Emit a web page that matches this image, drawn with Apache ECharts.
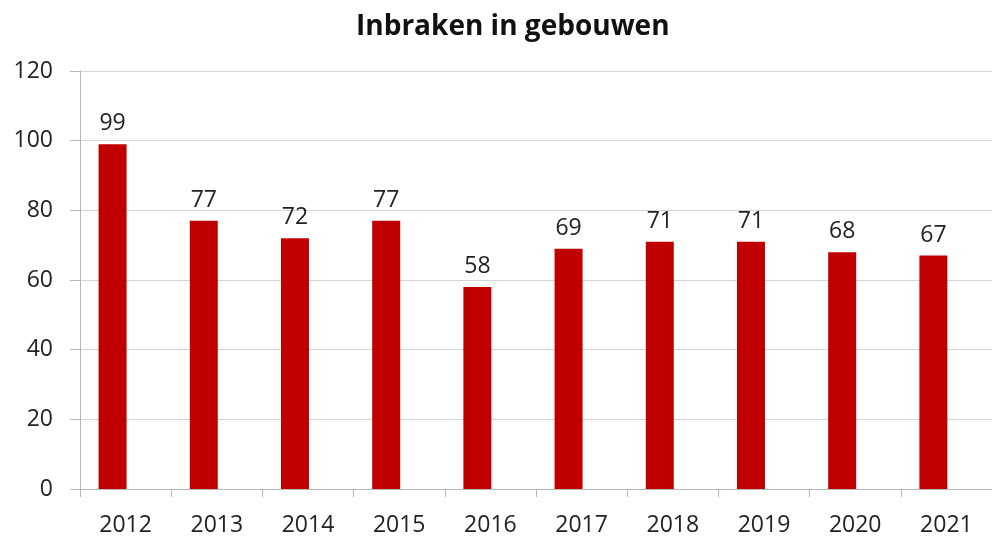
<!DOCTYPE html>
<html>
<head>
<meta charset="utf-8">
<script src="https://cdn.jsdelivr.net/npm/echarts@6/dist/echarts.min.js"></script>
<style>
  html, body { margin: 0; padding: 0; background: #fff; }
  #chart { width: 992px; height: 541px; }
</style>
</head>
<body>
<div id="chart"></div>
<script>
// jaren en aantallen
const years = ['2012', '2013', '2014', '2015', '2016', '2017', '2018', '2019', '2020', '2021']
const inbraken = [99, 77, 72, 77, 58, 69, 71, 71, 68, 67]
const leeg = years.map(() => null) // lege tweede reeks, schuift de staven naar links zoals in Excel

const chart = echarts.init(document.getElementById('chart'))
chart.setOption({
  animation: false,
  title: {
    text: 'Inbraken in gebouwen',
    left: 351,
    top: 8,
    textStyle: { fontFamily: 'Open Sans', fontSize: 28, fontWeight: 'bold', color: '#111' }
  },
  grid: { left: 80, top: 71, width: 920, height: 418 },
  xAxis: {
    type: 'category',
    data: years,
    axisLine: { lineStyle: { color: '#b8b8b8' } },
    axisTick: { show: true, length: 8, lineStyle: { color: '#b8b8b8' } },
    axisLabel: { margin: 25, fontFamily: 'Open Sans', fontSize: 23, color: '#222' }
  },
  yAxis: {
    type: 'value',
    min: 0,
    max: 120,
    interval: 20,
    axisLine: { show: true, lineStyle: { color: '#b8b8b8' } },
    axisTick: { show: true, inside: false, length: 10, lineStyle: { color: '#b8b8b8' } },
    splitLine: { lineStyle: { color: '#d4d4d4' } },
    axisLabel: { margin: 27, fontFamily: 'Open Sans', fontSize: 23, color: '#222' }
  },
  series: [
    {
      type: 'bar',
      data: inbraken,
      barWidth: 28,
      barGap: '-7%',
      itemStyle: { color: '#c00000' },
      label: {
        show: true,
        position: 'top',
        distance: 9,
        fontFamily: 'Open Sans',
        fontSize: 23,
        color: '#222'
      }
    },
    {
      type: 'bar',
      data: leeg,
      barWidth: 28
    }
  ]
})
</script>
</body>
</html>
